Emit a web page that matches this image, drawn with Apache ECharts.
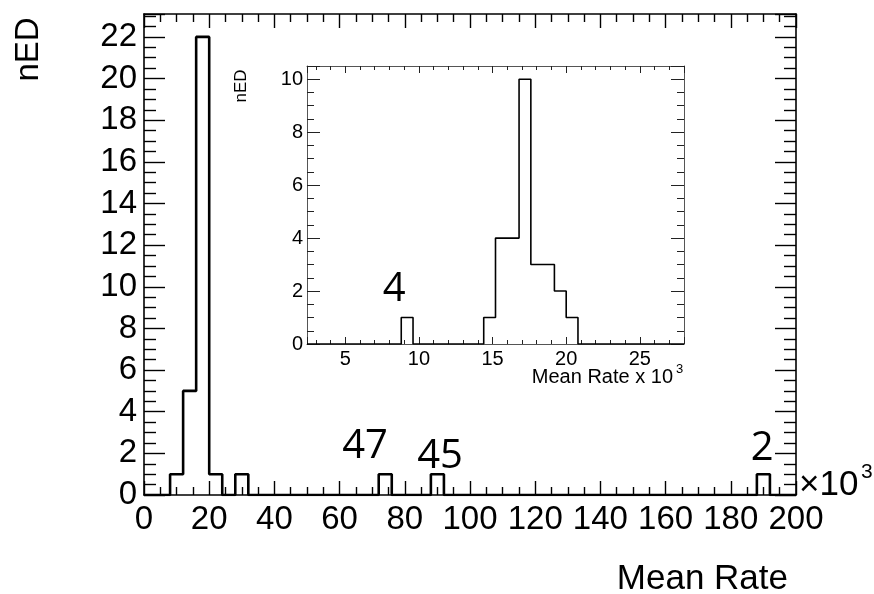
<!DOCTYPE html>
<html>
<head>
<meta charset="utf-8">
<script src="https://cdn.jsdelivr.net/npm/echarts@6/dist/echarts.min.js"></script>
<style>html,body{margin:0;padding:0;background:#fff;}#c{width:874px;height:594px;}</style>
</head>
<body>
<div id="c"></div>
<script>
// ---- data ----
// main histogram: bins of width 4 (x 10^3) from 0 to 200; only non-empty bins listed
const mainRange = [0, 200];
const mainBinWidth = 4;
const mainBinLow = [8, 12, 16, 20, 28, 72, 88, 188];
const mainCounts = [1, 5, 22, 1, 1, 1, 1, 1];
// inset histogram: bins of width 0.8 (x 10^3) from 2.4 to 28
const insetRange = [2.4, 28];
const insetBinWidth = 0.8;
const insetBinLow = [8.8, 14.4, 15.2, 16.0, 16.8, 17.6, 18.4, 19.2, 20.0];
const insetCounts = [1, 1, 4, 4, 10, 3, 3, 2, 1];
// annotations (text, x, y in data units)
const mainNotes = ['47', '45', '2'];
const mainNoteX = [67.8, 90.8, 189.6];
const mainNoteY = [2.3, 1.82, 2.22];
const insetNotes = ['4'];
const insetNoteX = [8.32];
const insetNoteY = [2.05];
// axis labels / titles
const mainYTitle = 'nED';
const mainXTitle = 'Mean Rate';
const insetYTitle = 'nED';
const insetXTitle = 'Mean Rate x 10';
const insetXTitleSup = '3';
const mainXMult = '\u00d710';
const mainXMultSup = '3';

function stepPoints(range, width, lows, counts) {
  const n = Math.round((range[1] - range[0]) / width);
  const dense = new Array(n).fill(0);
  lows.forEach((lo, i) => {
    const k = Math.round((lo - range[0]) / width);
    if (k >= 0 && k < n) dense[k] = counts[i];
  });
  const pts = [];
  for (let k = 0; k < n; k++) pts.push([range[0] + k * width, dense[k]]);
  pts.push([range[1], dense[n - 1]]);
  return pts;
}

const FONT = "'Liberation Sans', Arial, Helvetica, sans-serif";
const chart = echarts.init(document.getElementById('c'), null, {renderer: 'canvas'});

function axisCommon(color, lw) {
  return {axisLine: {show: true, onZero: false, lineStyle: {color: color, width: lw}}, splitLine: {show: false}};
}

const mainX = {
  gridIndex: 0, type: 'value', min: mainRange[0], max: mainRange[1], interval: 20,
  ...axisCommon('#000', 1.6),
  axisTick: {show: true, inside: true, length: 14, lineStyle: {color: '#000', width: 1.4}},
  minorTick: {show: true, splitNumber: 4, length: 8, lineStyle: {color: '#000', width: 1.4}}
};
const mainY = {
  gridIndex: 0, type: 'value', min: 0, max: 23.1, interval: 2,
  ...axisCommon('#000', 1.6),
  axisTick: {show: true, inside: true, length: 21, lineStyle: {color: '#000', width: 1.4}},
  minorTick: {show: true, splitNumber: 4, length: 12, lineStyle: {color: '#000', width: 1.4}}
};
const insetX = {
  gridIndex: 1, type: 'value', min: insetRange[0], max: insetRange[1], minInterval: 5, maxInterval: 5, splitNumber: 5,
  ...axisCommon('#555', 1),
  axisTick: {show: true, inside: true, length: 7, lineStyle: {color: '#222', width: 1}},
  minorTick: {show: true, splitNumber: 5, length: 4, lineStyle: {color: '#222', width: 1}}
};
const insetY = {
  gridIndex: 1, type: 'value', min: 0, max: 10.5, interval: 2,
  ...axisCommon('#555', 1),
  axisTick: {show: true, inside: true, length: 13, lineStyle: {color: '#222', width: 1}},
  minorTick: {show: true, splitNumber: 4, length: 7, lineStyle: {color: '#222', width: 1}}
};

const isMult = (v, m) => Math.abs(v / m - Math.round(v / m)) < 1e-6;
const noteLabel = {show: true, position: 'inside', formatter: p => p.name,
  fontFamily: "'Open Sans', sans-serif", fontSize: 40, color: '#000', opacity: 1};

const option = {
  backgroundColor: '#fff',
  animation: false,
  grid: [
    {left: 144, top: 14, width: 652, height: 481, containLabel: false},
    {left: 307, top: 66, width: 377, height: 278, containLabel: false, show: true, backgroundColor: '#fff', borderWidth: 0}
  ],
  xAxis: [
    {...mainX, position: 'bottom',
      axisLabel: {show: true, margin: 8, fontFamily: FONT, fontSize: 33, color: '#000',
        formatter: v => isMult(v, 20) ? String(Math.round(v)) : ''}},
    {...mainX, position: 'top', axisLabel: {show: false}},
    {...insetX, position: 'bottom',
      axisLabel: {show: true, margin: 5, fontFamily: FONT, fontSize: 20, color: '#000',
        formatter: v => isMult(v, 5) ? String(Math.round(v)) : ''}},
    {...insetX, position: 'top', axisLabel: {show: false}}
  ],
  yAxis: [
    {...mainY, position: 'left',
      axisLabel: {show: true, margin: 7, fontFamily: FONT, fontSize: 33, color: '#000',
        formatter: v => isMult(v, 2) ? String(Math.round(v)) : ''}},
    {...mainY, position: 'right', axisLabel: {show: false}},
    {...insetY, position: 'left',
      axisLabel: {show: true, margin: 4, fontFamily: FONT, fontSize: 20, color: '#000',
        formatter: v => isMult(v, 2) ? String(Math.round(v)) : ''}},
    {...insetY, position: 'right', axisLabel: {show: false}}
  ],
  series: [
    {type: 'line', xAxisIndex: 0, yAxisIndex: 0, step: 'end', symbol: 'none', z: 5,
      data: stepPoints(mainRange, mainBinWidth, mainBinLow, mainCounts),
      lineStyle: {color: '#000', width: 2.6}},
    {type: 'line', xAxisIndex: 2, yAxisIndex: 2, step: 'end', symbol: 'none', z: 5,
      data: stepPoints(insetRange, insetBinWidth, insetBinLow, insetCounts),
      lineStyle: {color: '#000', width: 1.6}},
    {type: 'scatter', xAxisIndex: 0, yAxisIndex: 0, symbolSize: 0, z: 6,
      itemStyle: {opacity: 1}, emphasis: {disabled: true},
      data: mainNotes.map((t, i) => ({name: t, value: [mainNoteX[i], mainNoteY[i]]})),
      label: noteLabel},
    {type: 'scatter', xAxisIndex: 2, yAxisIndex: 2, symbolSize: 0, z: 6,
      itemStyle: {opacity: 1}, emphasis: {disabled: true},
      data: insetNotes.map((t, i) => ({name: t, value: [insetNoteX[i], insetNoteY[i]]})),
      label: noteLabel}
  ],
  graphic: [
    {type: 'text', x: 29, y: 49.5, rotation: Math.PI / 2,
      style: {text: mainYTitle, font: '33px ' + FONT, fill: '#000', align: 'center', verticalAlign: 'middle'}},
    {type: 'text', x: 788, y: 579,
      style: {text: mainXTitle, font: '35px ' + FONT, fill: '#000', align: 'right', verticalAlign: 'middle'}},
    {type: 'text', x: 799, y: 485,
      style: {text: mainXMult, font: '35px ' + FONT, fill: '#000', align: 'left', verticalAlign: 'middle'}},
    {type: 'text', x: 861, y: 472,
      style: {text: mainXMultSup, font: '21px ' + FONT, fill: '#000', align: 'left', verticalAlign: 'middle'}},
    {type: 'text', x: 241, y: 86, rotation: Math.PI / 2,
      style: {text: insetYTitle, font: '17px ' + FONT, fill: '#000', align: 'center', verticalAlign: 'middle'}},
    {type: 'text', x: 673, y: 377,
      style: {text: insetXTitle, font: '20px ' + FONT, fill: '#000', align: 'right', verticalAlign: 'middle'}},
    {type: 'text', x: 676, y: 369,
      style: {text: insetXTitleSup, font: '13px ' + FONT, fill: '#000', align: 'left', verticalAlign: 'middle'}}
  ]
};
chart.setOption(option);
</script>
</body>
</html>
